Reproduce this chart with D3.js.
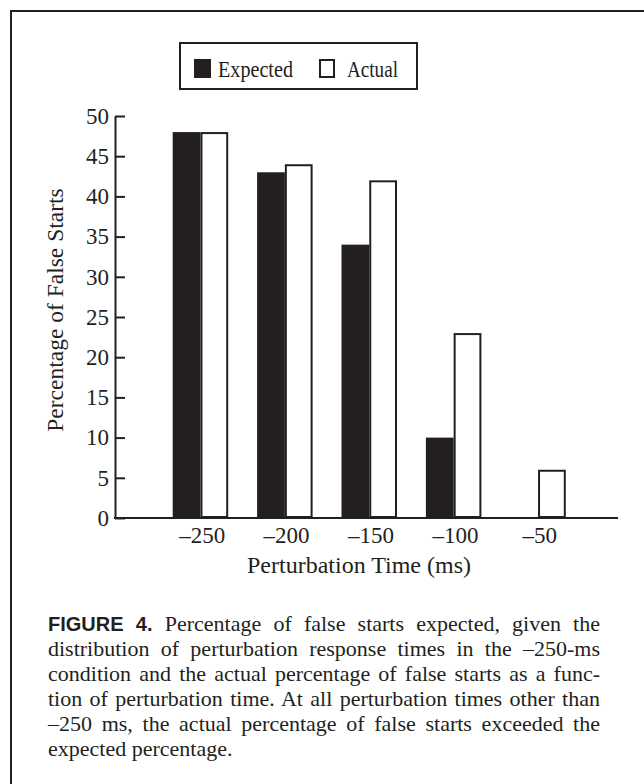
<!DOCTYPE html>
<html>
<head>
<meta charset="utf-8">
<script src="https://cdn.jsdelivr.net/npm/d3@7"></script>
<style>
  body { margin: 0; background: #fff; }
  text { font-family: "Liberation Serif", "Times New Roman", serif; fill: #231f20; }
</style>
</head>
<body>
<svg id="fig"></svg>
<script>
// data
const times = ['\u2013250', '\u2013200', '\u2013150', '\u2013100', '\u201350'];
const expected = [48, 43, 34, 10, 0];
const actual = [48, 44, 42, 23, 6];
const series = ['Expected', 'Actual'];
const yTicks = [0, 5, 10, 15, 20, 25, 30, 35, 40, 45, 50];
const captionLead = 'FIGURE 4. ';
const captionLines = [
  'Percentage of false starts expected, given the',
  'distribution of perturbation response times in the \u2013250-ms',
  'condition and the actual percentage of false starts as a func-',
  'tion of perturbation time. At all perturbation times other than',
  '\u2013250 ms, the actual percentage of false starts exceeded the',
  'expected percentage.'
];

const W = 644, H = 784;
const ink = '#231f20';

const svg = d3.select('#fig')
  .attr('width', W)
  .attr('height', H);

// outer frame (runs off the right and bottom edges)
svg.append('rect')
  .attr('x', 11).attr('y', 11)
  .attr('width', 700).attr('height', 900)
  .attr('fill', 'none')
  .attr('stroke', ink)
  .attr('stroke-width', 2);

////////////////// scales
let x = d3.scaleBand()
  .domain(times)
  .range([160, 582]);

let x1 = d3.scaleBand()
  .domain(series)
  .range([-29.5, 26]);

let y = d3.scaleLinear()
  .domain([0, 50])
  .range([518, 116]);

const rows = times.map((t, i) => ({ time: t, Expected: expected[i], Actual: actual[i] }));
const cx = (t) => x(t) + x.bandwidth() / 2;

////////////////// bars
// filled "expected" bars
svg.append('g').selectAll('rect')
  .data(rows)
  .enter()
  .append('rect')
  .attr('x', (d) => cx(d.time) + x1('Expected'))
  .attr('y', (d) => y(d.Expected))
  .attr('width', x1.bandwidth())
  .attr('height', (d) => y(0) - y(d.Expected))
  .attr('fill', ink);

// open "actual" bars
svg.append('g').selectAll('rect')
  .data(rows)
  .enter()
  .append('rect')
  .attr('x', (d) => cx(d.time) + x1('Actual') + 1)
  .attr('y', (d) => y(d.Actual) + 1)
  .attr('width', x1.bandwidth() - 2)
  .attr('height', (d) => Math.max(0, y(0) - y(d.Actual) - 2))
  .attr('fill', '#fff')
  .attr('stroke', ink)
  .attr('stroke-width', 2);

////////////////// axes
let yAxis = d3.axisLeft(y)
  .tickValues(yTicks)
  .tickSizeInner(-10)
  .tickSizeOuter(0)
  .tickPadding(6);

let yAxisGroup = svg.append('g')
  .attr('transform', 'translate(115, 0)')
  .call(yAxis);
yAxisGroup.selectAll('path, line')
  .attr('stroke', ink)
  .attr('stroke-width', 2);
yAxisGroup.selectAll('text')
  .attr('font-family', null)
  .style('font-size', '23px');

let xAxis = d3.axisBottom(x)
  .tickSize(0)
  .tickPadding(9);

let xAxisGroup = svg.append('g')
  .attr('transform', `translate(0, ${y(0)})`)
  .call(xAxis);
xAxisGroup.select('.domain').remove();
xAxisGroup.selectAll('text')
  .attr('font-family', null)
  .style('font-size', '23px');

// baseline
svg.append('line')
  .attr('x1', 114).attr('x2', 618)
  .attr('y1', y(0)).attr('y2', y(0))
  .attr('stroke', ink)
  .attr('stroke-width', 2);

// axis titles
svg.append('text')
  .attr('x', 359).attr('y', 573)
  .style('text-anchor', 'middle')
  .style('font-size', '24px')
  .text('Perturbation Time (ms)');

svg.append('text')
  .attr('transform', 'translate(63, 310) rotate(-90)')
  .style('text-anchor', 'middle')
  .style('font-size', '23.5px')
  .text('Percentage of False Starts');

////////////////// legend
let legend = svg.append('g');
legend.append('rect')
  .attr('x', 180).attr('y', 43)
  .attr('width', 237).attr('height', 46)
  .attr('fill', '#fff')
  .attr('stroke', ink)
  .attr('stroke-width', 2);
legend.append('rect')
  .attr('x', 194).attr('y', 59)
  .attr('width', 17).attr('height', 19)
  .attr('fill', ink);
legend.append('text')
  .attr('x', 218).attr('y', 77)
  .attr('textLength', 75)
  .attr('lengthAdjust', 'spacingAndGlyphs')
  .style('font-size', '24px')
  .text(series[0]);
legend.append('rect')
  .attr('x', 320).attr('y', 60)
  .attr('width', 14).attr('height', 17)
  .attr('fill', '#fff')
  .attr('stroke', ink)
  .attr('stroke-width', 2);
legend.append('text')
  .attr('x', 347).attr('y', 77)
  .attr('textLength', 51)
  .attr('lengthAdjust', 'spacingAndGlyphs')
  .style('font-size', '24px')
  .text(series[1]);

////////////////// caption, justified with word spacing
const colLeft = 48, colWidth = 552;
let caption = svg.append('g');
captionLines.forEach((line, i) => {
  let t = caption.append('text')
    .attr('x', colLeft)
    .attr('y', 631 + i * 25)
    .style('font-size', '22px');
  let full = line;
  if (i === 0) {
    t.append('tspan')
      .style('font-family', '"Liberation Sans", Arial, sans-serif')
      .style('font-weight', 'bold')
      .style('font-size', '20px')
      .text(captionLead);
    full = captionLead + line;
  }
  t.append('tspan').text(line);
  if (i < captionLines.length - 1) {
    let gaps = (full.match(/ /g) || []).length;
    let extra = colWidth - t.node().getComputedTextLength();
    t.style('word-spacing', (extra / gaps) + 'px');
  }
});
</script>
</body>
</html>
